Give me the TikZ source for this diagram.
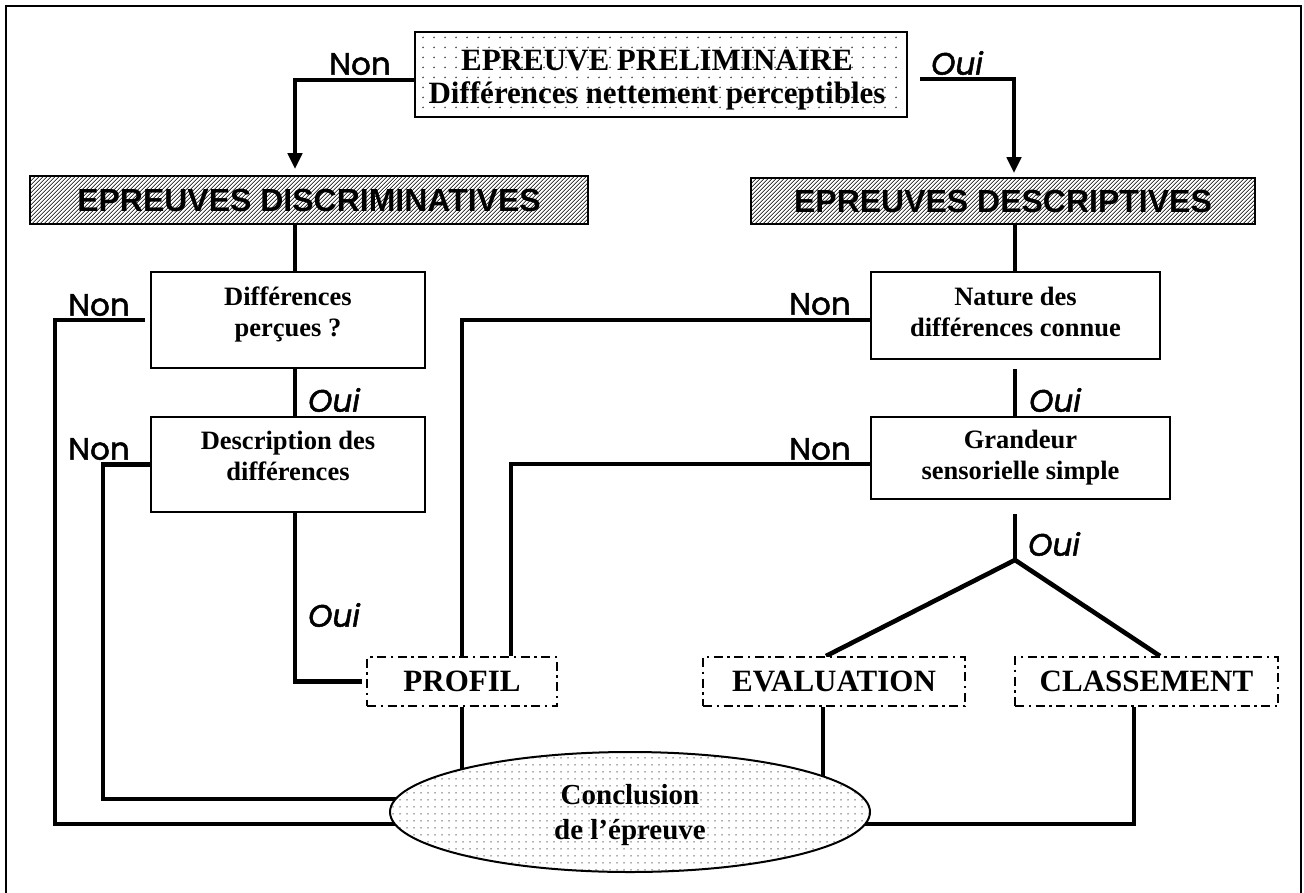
\documentclass[tikz,border=0pt]{standalone}
\usepackage{fontspec}
\setmainfont{Liberation Serif}
\newfontfamily\hsans{Liberation Sans}
\newfontfamily\lbl{Poppins}[FakeBold=1.6]
\usetikzlibrary{patterns.meta,arrows.meta,backgrounds,shapes.geometric}

\tikzdeclarepattern{
  name=hatchA,
  type=uncolored,
  bottom left={(0pt,0pt)},
  top right={(3.3pt,3.3pt)},
  tile size={(3.3pt,3.3pt)},
  tile transformation={rotate=45},
  code={\pgfsetlinewidth{1.2pt}\pgfpathmoveto{\pgfpoint{-0.2pt}{1.65pt}}\pgfpathlineto{\pgfpoint{3.5pt}{1.65pt}}\pgfusepath{stroke}}
}
\tikzdeclarepattern{
  name=dotsA,
  type=uncolored,
  bottom left={(0pt,0pt)},
  top right={(11pt,10pt)},
  tile size={(11pt,10pt)},
  code={\pgfpathcircle{\pgfpoint{5.5pt}{5pt}}{1pt}\pgfusepath{fill}}
}
\tikzdeclarepattern{
  name=dotsB,
  type=uncolored,
  bottom left={(0pt,0pt)},
  top right={(6.5pt,6.5pt)},
  tile size={(6.5pt,6.5pt)},
  code={\pgfpathcircle{\pgfpoint{3.25pt}{3.25pt}}{0.8pt}\pgfusepath{fill}}
}

\begin{document}
\begin{tikzpicture}[x=1pt,y=-1pt,
  conn/.style={line width=4.6pt},
  arr/.style={-{Triangle[length=16pt,width=14pt]}},
  qbox/.style={draw, line width=2pt, fill=white, inner sep=0pt},
  tbox/.style={font=\bfseries\fontsize{26.5}{31}\selectfont, align=center, inner sep=0pt},
  hbox/.style={draw, line width=1.6pt, pattern=hatchA, pattern color=black!75, font=\hsans\bfseries\fontsize{32}{34}\selectfont, inner sep=0pt},
  rbox/.style={draw, line width=2pt, dash pattern=on 9pt off 4.5pt on 2.5pt off 4.5pt, fill=white, font=\bfseries\fontsize{31}{33}\selectfont, inner sep=0pt},
  lab/.style={font=\lbl\fontsize{31}{32}\selectfont, inner sep=0pt},
  labi/.style={inner sep=0pt, font=\lbl\itshape\fontsize{31}{32}\selectfont}
]
\useasboundingbox (0,0) rectangle (1304,892);
\draw[line width=2pt] (6,900) -- (6,6) -- (1301,6) -- (1301,900);

% boxes
\node[draw, line width=2.5pt, pattern=dotsA, pattern color=black!70, inner sep=0pt,
      minimum width=492pt, minimum height=85pt] (prelim) at (661,74.5) {};
\node[font=\bfseries\fontsize{31}{33}\selectfont, align=center, inner sep=0pt] (prelimtxt) at (657,79.6)
  {EPREUVE PRELIMINAIRE\\Différences nettement perceptibles};

\node[hbox, minimum width=558pt, minimum height=48pt] (discr) at (309,200) {EPREUVES DISCRIMINATIVES};
\node[hbox, minimum width=504pt, minimum height=46pt] (descr) at (1003,201) {EPREUVES DESCRIPTIVES};

\node[qbox, minimum width=274pt, minimum height=96pt] (diffp) at (288,320) {};
\node[tbox] (diffptxt) at (288,314.3) {Différences\\perçues ?};
\node[qbox, minimum width=274pt, minimum height=95pt] (descd) at (288,464.5) {};
\node[tbox] (descdtxt) at (288,455.6) {Description des\\différences};

\node[qbox, minimum width=289pt, minimum height=87pt] (nature) at (1015.5,315.5) {};
\node[tbox] (naturetxt) at (1015.5,311.6) {Nature des\\différences connue};
\node[qbox, minimum width=299pt, minimum height=82pt] (grand) at (1020.5,458) {};
\node[tbox] (grandtxt) at (1020.5,457.4) {Grandeur\\sensorielle simple};

\node[rbox, minimum width=190pt, minimum height=49pt] (profil) at (462,681.5) {PROFIL};
\node[rbox, minimum width=262pt, minimum height=49pt] (evalb) at (834,681.5) {EVALUATION};
\node[rbox, minimum width=263pt, minimum height=49pt] (classb) at (1146.5,681.5) {CLASSEMENT};

\node[ellipse, draw, line width=2pt, preaction={fill=white}, pattern=dotsB, pattern color=black!65,
      minimum width=480pt, minimum height=120pt, inner sep=0pt] (concl) at (630,812) {};
\node[font=\bfseries\fontsize{29}{35}\selectfont, align=center, inner sep=0pt] (concltxt) at (630,815)
  {Conclusion\\de l’épreuve};

% labels
\node[lab] (non1) at (360,64) {Non};
\node[labi] (oui1) at (957,63) {Oui};
\node[lab] (non2) at (99,305) {Non};
\node[lab] (non3) at (99,449) {Non};
\node[labi] (oui2) at (334,400) {Oui};
\node[labi] (oui3) at (334,615) {Oui};
\node[lab] (non4) at (820,304) {Non};
\node[lab] (non5) at (820,449) {Non};
\node[labi] (oui4) at (1055,400) {Oui};
\node[labi] (oui5) at (1054,544) {Oui};

% free points
\coordinate (kL) at (295,80);
\coordinate (kR) at (1014,79);
\coordinate (colL) at (295,0);
\coordinate (colR) at (1015,0);
\coordinate (fork) at (1015,560);
\coordinate (cA) at (55,824);
\coordinate (cB) at (103,799);

\begin{scope}[on background layer]
\draw[conn,arr,shorten >=6pt] ([yshift=-5.5pt]prelim.west) -| (discr.north -| kL);
\draw[conn,arr,shorten >=4pt] ([xshift=12pt,yshift=-4.5pt]prelim.east) -| (descr.north -| kR);
\draw[conn] (discr.south -| colL) -- (diffp.north -| colL);
\draw[conn] (diffp.south -| colL) -- (descd.north -| colL);
\draw[conn,shorten >=4pt] (descd.south -| colL) |- (profil.west);
\draw[conn,shorten <=5pt] (diffp.west) -| (cA) -- (cA -| concl.center);
\draw[conn] (descd.west) -| (cB) -- (cB -| concl.center);
\draw[conn] ([yshift=-4.5pt]nature.west) -| (profil.north);
\draw[conn] ([yshift=-6pt]grand.west) -| ([xshift=49pt]profil.north);
\draw[conn] (descr.south -| colR) -- (nature.north -| colR);
\draw[conn,shorten <=9pt] (nature.south -| colR) -- (grand.north -| colR);
\draw[conn,shorten <=14pt] (grand.south -| colR) -- (fork);
\draw[conn] (fork) -- ([xshift=-8pt]evalb.north);
\draw[conn] (fork) -- ([xshift=13.5pt]classb.north);
\draw[conn] ([xshift=-11pt]evalb.south) -- ([xshift=-11pt]evalb.south |- concl.center);
\draw[conn] (profil.south) -- (profil.south |- concl.center);
\draw[conn] ([xshift=-12.5pt]classb.south) |- ([yshift=-12pt]concl.center);
\end{scope}
\end{tikzpicture}
\end{document}
